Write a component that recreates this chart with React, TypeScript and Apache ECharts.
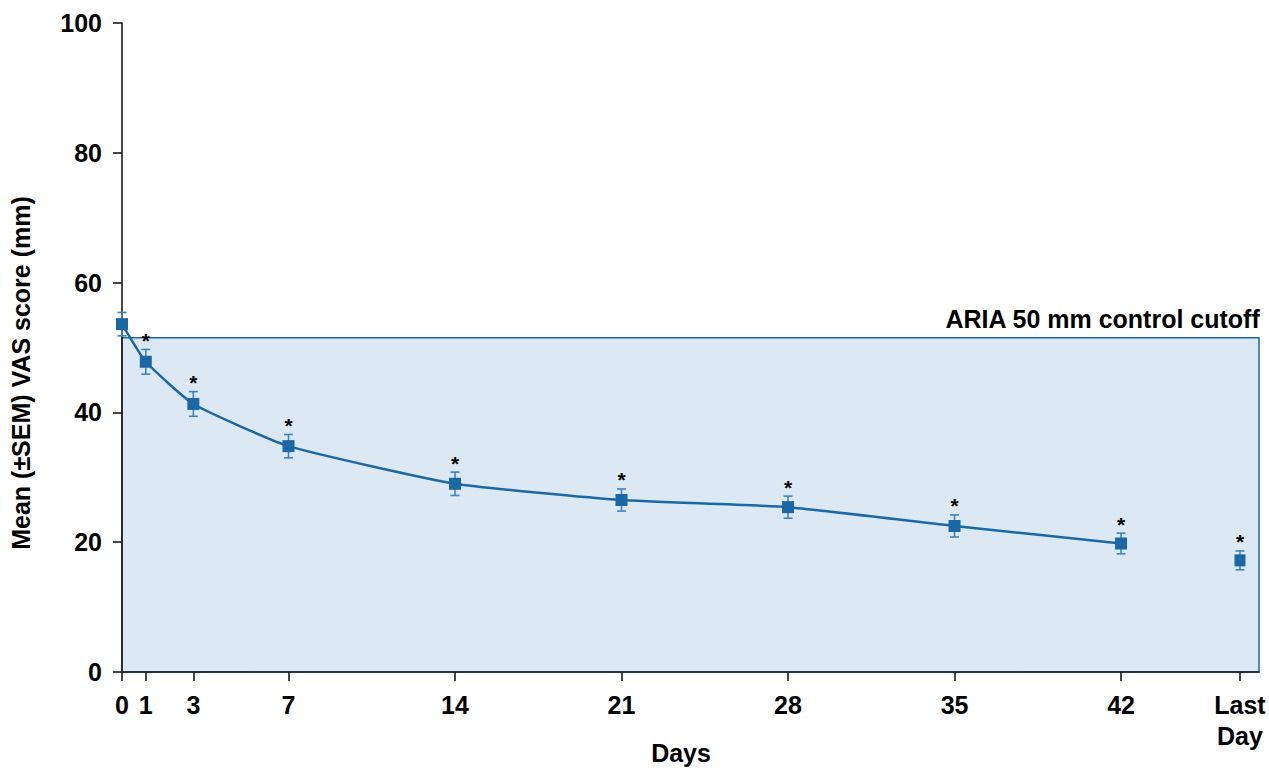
import React, { useEffect, useRef } from "react";
import * as echarts from "echarts";

const days = [0, 1, 3, 7, 14, 21, 28, 35, 42];
const means = [53.6, 47.8, 41.3, 34.8, 29.0, 26.5, 25.4, 22.5, 19.8];
const sems = [1.8, 1.9, 1.9, 1.8, 1.8, 1.7, 1.7, 1.7, 1.6];
const stars = [false, true, true, true, true, true, true, true, true];
const lastDayX = 47;
const lastDayMean = 17.2;
const lastDaySem = 1.45;
const xTicks = [0, 1, 3, 7, 14, 21, 28, 35, 42, 47];
const yTicks = [0, 20, 40, 60, 80, 100];
const cutoffValue = 51.5;
const cutoffLabel = "ARIA 50 mm control cutoff";
const xMax = 47.8;

const FONT = "'Liberation Sans', Arial, sans-serif";
const FS = 25;
const DARK_BLUE = "#1c67a6";
const ERR_BLUE = "#3a84c2";
const AXIS = "#1a1a1a";

export default function App() {
  const ref = useRef<HTMLDivElement>(null);
  useEffect(() => {
    document.body.style.margin = "0";
    const chart = echarts.init(ref.current!, null, { renderer: "svg" });
    const errData = days.map((d, i) => [d, means[i], sems[i], stars[i] ? 1 : 0]);
    errData.push([lastDayX, lastDayMean, lastDaySem, 1]);
    const option: any = {
      animation: false,
      grid: { left: 122, top: 23, right: 10, bottom: 96, containLabel: false },
      xAxis: {
        type: "value",
        min: 0,
        max: xMax,
        z: 10,
        splitLine: { show: false },
        axisLine: { show: true, lineStyle: { color: AXIS, width: 1.6 } },
        axisTick: {
          show: true,
          length: 9,
          customValues: xTicks,
          lineStyle: { color: AXIS, width: 1.6 },
        },
        axisLabel: {
          customValues: xTicks,
          margin: 17,
          color: "#000",
          fontFamily: FONT,
          fontWeight: "bold",
          fontSize: FS,
          lineHeight: 31,
          formatter: (v: number) => (v === lastDayX ? "Last\nDay" : String(v)),
        },
      },
      yAxis: {
        type: "value",
        min: 0,
        max: 100,
        interval: 20,
        z: 10,
        splitLine: { show: false },
        axisLine: { show: true, lineStyle: { color: AXIS, width: 1.6 } },
        axisTick: { show: true, length: 9, lineStyle: { color: AXIS, width: 1.6 } },
        axisLabel: {
          margin: 20,
          color: "#000",
          fontFamily: FONT,
          fontWeight: "bold",
          fontSize: FS,
          customValues: yTicks,
        },
      },
      graphic: [
        {
          type: "text",
          x: 21,
          y: 373,
          rotation: Math.PI / 2,
          style: {
            text: "Mean (±SEM) VAS score (mm)",
            fill: "#000",
            font: `bold ${FS}px ${FONT}`,
            align: "center",
            verticalAlign: "middle",
          },
        },
        {
          type: "text",
          x: 681,
          y: 753,
          style: {
            text: "Days",
            fill: "#000",
            font: `bold ${FS}px ${FONT}`,
            align: "center",
            verticalAlign: "middle",
          },
        },
      ],
      series: [
        {
          type: "line",
          z: 1,
          data: [],
          markArea: {
            silent: true,
            itemStyle: { color: "#dce9f5", borderColor: DARK_BLUE, borderWidth: 1.5 },
            label: {
              show: true,
              position: ["100%", 0],
              align: "right",
              verticalAlign: "bottom",
              offset: [0, -6],
              color: "#000",
              fontFamily: FONT,
              fontWeight: "bold",
              fontSize: FS,
              formatter: cutoffLabel,
            },
            data: [[{ coord: [0, 0] }, { coord: [xMax, cutoffValue] }]],
          },
        },
        {
          type: "custom",
          z: 15,
          data: errData,
          renderItem: (params: any, api: any) => {
            const x = api.value(0);
            const y = api.value(1);
            const s = api.value(2);
            const star = api.value(3);
            const top = api.coord([x, y + s]);
            const bot = api.coord([x, y - s]);
            const cw = 4.5;
            const ls = { stroke: ERR_BLUE, lineWidth: 1.6 };
            const children: any[] = [
              { type: "line", shape: { x1: top[0], y1: top[1], x2: bot[0], y2: bot[1] }, style: ls },
              { type: "line", shape: { x1: top[0] - cw, y1: top[1], x2: top[0] + cw, y2: top[1] }, style: ls },
              { type: "line", shape: { x1: bot[0] - cw, y1: bot[1], x2: bot[0] + cw, y2: bot[1] }, style: ls },
            ];
            if (star) {
              children.push({
                type: "text",
                x: top[0],
                y: top[1] - 9,
                style: {
                  text: "*",
                  fill: "#000",
                  font: `bold 21px ${FONT}`,
                  align: "center",
                  verticalAlign: "middle",
                },
              });
            }
            return { type: "group", children };
          },
        },
        {
          type: "line",
          z: 20,
          smooth: 0.15,
          data: days.map((d, i) => [d, means[i]]),
          symbol: "rect",
          symbolSize: 12,
          lineStyle: { color: DARK_BLUE, width: 2.5 },
          itemStyle: { color: DARK_BLUE },
        },
        {
          type: "scatter",
          z: 20,
          data: [[lastDayX, lastDayMean]],
          symbol: "rect",
          symbolSize: [11, 12],
          itemStyle: { color: DARK_BLUE, opacity: 1 },
        },
      ],
    };
    chart.setOption(option);
    return () => chart.dispose();
  }, []);
  return <div ref={ref} style={{ width: 1269, height: 768 }} />;
}
